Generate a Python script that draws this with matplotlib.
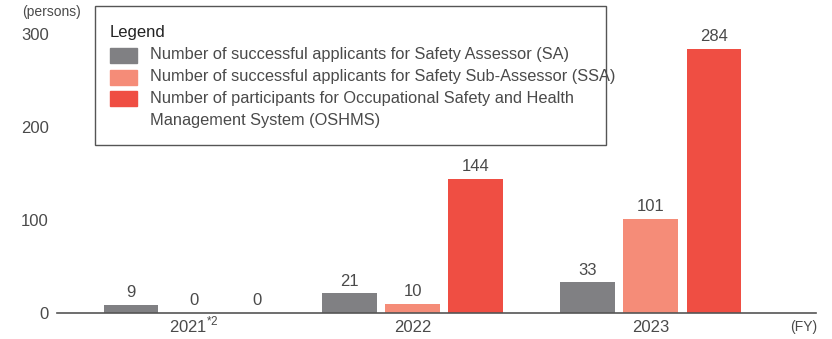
import numpy as np
import matplotlib.pyplot as plt
from matplotlib.patches import Rectangle

plt.rcParams['font.family'] = ['Liberation Sans', 'DejaVu Sans']
plt.rcParams['mathtext.fontset'] = 'custom'
plt.rcParams['mathtext.rm'] = 'Liberation Sans'

years = ['2021$^{\\mathregular{*2}}$', '2022', '2023']
sa = [9, 21, 33]
ssa = [0, 10, 101]
oshms = [0, 144, 284]
series_names = [
    'Number of successful applicants for Safety Assessor (SA)',
    'Number of successful applicants for Safety Sub-Assessor (SSA)',
    'Number of participants for Occupational Safety and Health\nManagement System (OSHMS)',
]
colors = ['#808083', '#F58C78', '#EF4E43']
txt = '#4a4a4a'

group_x = np.array([0, 1, 2.09])
width = 0.25
step = 0.289

fig = plt.figure(figsize=(8.32, 3.39), dpi=100)
ax = fig.add_axes([0.0685, 0.0767, 0.9125, 0.823])

for i, (vals, c) in enumerate(zip([sa, ssa, oshms], colors)):
    xs = group_x + (i - 1) * step
    ax.bar(xs, vals, width, color=c, zorder=2)
    for x, v in zip(xs, vals):
        ax.text(x, v + 5, str(v), ha='center', va='bottom', fontsize=12,
                color=txt, clip_on=False)

ax.set_xlim(-0.627, 2.847)
ax.set_ylim(0, 300)
ax.set_yticks([0, 100, 200, 300])
ax.set_xticks(group_x)
ax.set_xticklabels(years, va='baseline')
ax.tick_params(length=0, labelsize=12, labelcolor=txt)
ax.tick_params(axis='x', pad=14)
ax.tick_params(axis='y', pad=6)
for s in ['left', 'right', 'top']:
    ax.spines[s].set_visible(False)
ax.spines['bottom'].set_color('#555555')
ax.spines['bottom'].set_linewidth(1.2)

W, H = 832, 339


def fx(px):
    return px / W


def fy(py):
    return 1 - py / H


fig.text(fx(22), fy(12), '(persons)', fontsize=10, color=txt, va='center')
fig.text(fx(804), fy(327), '(FY)', fontsize=10, color=txt, va='center', ha='center')

# legend box
fig.patches.append(Rectangle((fx(95), fy(145)), fx(606) - fx(95), fy(6) - fy(145),
                             transform=fig.transFigure, fill=False,
                             edgecolor='#555555', linewidth=1.0))
fig.text(fx(110), fy(32), 'Legend', fontsize=12, color='#222222', va='center')
rows = [55, 77, 99]
for name, c, y in zip(series_names, colors, rows):
    fig.patches.append(Rectangle((fx(110), fy(y + 7.5)), fx(27), 15 / H,
                                 transform=fig.transFigure, color=c))
    for k, line in enumerate(name.split('\n')):
        fig.text(fx(150), fy(y + 22 * k), line, fontsize=11.8, color=txt,
                 va='center')

fig.savefig('out.png', dpi=100)
